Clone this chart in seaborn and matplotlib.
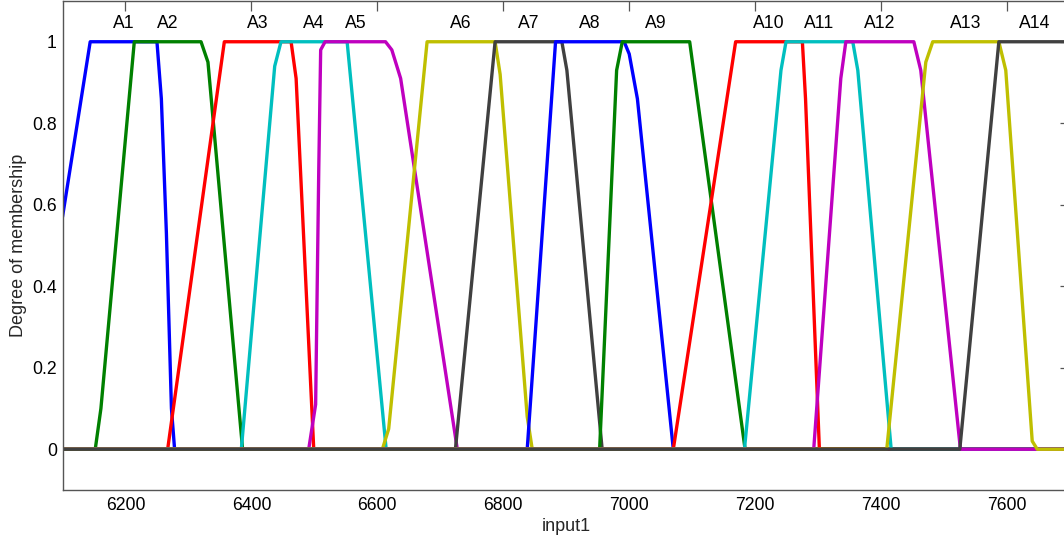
import numpy as np
import pandas as pd
import matplotlib
matplotlib.use("Agg")
import matplotlib.pyplot as plt
import seaborn as sns

# ---- data ----
mf_names = ["A1", "A2", "A3", "A4", "A5", "A6", "A7",
            "A8", "A9", "A10", "A11", "A12", "A13", "A14"]

mf_x = [
    [6100, 6144, 6250, 6257, 6265, 6273, 6278, 7700],
    [6100, 6152, 6161, 6214, 6320, 6331, 6386, 7700],
    [6100, 6267, 6357, 6463, 6471, 6499, 7700],
    [6100, 6384, 6437, 6447, 6552, 6614, 7700],
    [6100, 6491, 6502, 6507, 6510, 6517, 6613, 6623, 6637, 6727, 7700],
    [6100, 6608, 6618, 6679, 6787, 6795, 6838, 6846, 7700],
    [6100, 6724, 6787, 6893, 6901, 6957, 7700],
    [6100, 6838, 6883, 6992, 7000, 7013, 7070, 7700],
    [6100, 6953, 6980, 6989, 7096, 7184, 7700],
    [6100, 7070, 7169, 7275, 7280, 7302, 7700],
    [6100, 7183, 7241, 7249, 7355, 7363, 7416, 7700],
    [6100, 7293, 7336, 7344, 7452, 7463, 7526, 7700],
    [6100, 7409, 7471, 7482, 7587, 7598, 7640, 7648, 7700],
    [6100, 7525, 7587, 7700],
]
mf_y = [
    [0.57, 1, 1, 0.86, 0.53, 0.10, 0, 0],
    [0, 0, 0.10, 1, 1, 0.95, 0, 0],
    [0, 0, 1, 1, 0.91, 0, 0],
    [0, 0, 0.94, 1, 1, 0, 0],
    [0, 0, 0.11, 0.69, 0.98, 1, 1, 0.98, 0.91, 0, 0],
    [0, 0, 0.05, 1, 1, 0.92, 0.08, 0, 0],
    [0, 0, 1, 1, 0.93, 0, 0],
    [0, 0, 1, 1, 0.97, 0.86, 0, 0],
    [0, 0, 0.93, 1, 1, 0, 0],
    [0, 0, 1, 1, 0.86, 0, 0],
    [0, 0, 0.93, 1, 1, 0.93, 0, 0],
    [0, 0, 0.91, 1, 1, 0.93, 0, 0],
    [0, 0, 0.95, 1, 1, 0.93, 0.02, 0, 0],
    [0, 0, 1, 1],
]

matlab_colors = ["#0000ff", "#008000", "#ff0000", "#00bfbf",
                 "#bf00bf", "#bfbf00", "#404040"]

x_ticks = [6200, 6400, 6600, 6800, 7000, 7200, 7400, 7600]
y_ticks = [0, 0.2, 0.4, 0.6, 0.8, 1]
y_tick_labels = ["0", "0.2", "0.4", "0.6", "0.8", "1"]

# ---- build long table ----
rows = []
for name, xs, ys in zip(mf_names, mf_x, mf_y):
    for k, (xv, yv) in enumerate(zip(xs, ys)):
        rows.append({"mf": name, "order": k, "input1": xv, "mu": yv})
df = pd.DataFrame(rows)

palette = {n: matlab_colors[i % len(matlab_colors)] for i, n in enumerate(mf_names)}

sns.set_style("white")
plt.rcParams["font.family"] = ["Liberation Sans", "DejaVu Sans"]

fig = plt.figure(figsize=(10.64, 5.41), dpi=100)
ax = fig.add_axes([62.5 / 1064, 51 / 541, (1070 - 62.5) / 1064, 489 / 541])

sns.lineplot(data=df, x="input1", y="mu", hue="mf", hue_order=mf_names,
             palette=palette, sort=False, estimator=None, legend=False,
             linewidth=2.4, ax=ax)

# MF labels above plateau centres
for name, xs, ys in zip(mf_names, mf_x, mf_y):
    top = [xv for xv, yv in zip(xs, ys) if yv == 1]
    xc = (min(top) + max(top)) / 2
    ax.text(xc, 1.034, name, ha="center", va="baseline", fontsize=12.7,
            color="black")

ax.set_xlim(6100, 7700)
ax.set_ylim(-0.1, 1.1)
ax.set_xticks(x_ticks)
ax.set_xticklabels([str(t) for t in x_ticks])
ax.set_yticks(y_ticks)
ax.set_yticklabels(y_tick_labels)

spine_col = "#555555"
for s in ax.spines.values():
    s.set_visible(True)
    s.set_color(spine_col)
    s.set_linewidth(1.0)

ax.tick_params(axis="both", direction="in", top=True, right=True,
               length=7.2, width=0.9, color=spine_col,
               labelsize=12.7, labelcolor="black")
ax.tick_params(axis="x", pad=5)
ax.tick_params(axis="y", pad=4)

ax.set_xlabel("input1", fontsize=13, labelpad=3)
ax.set_ylabel("Degree of membership", fontsize=13, labelpad=4)

fig.savefig("out.png", dpi=100)
